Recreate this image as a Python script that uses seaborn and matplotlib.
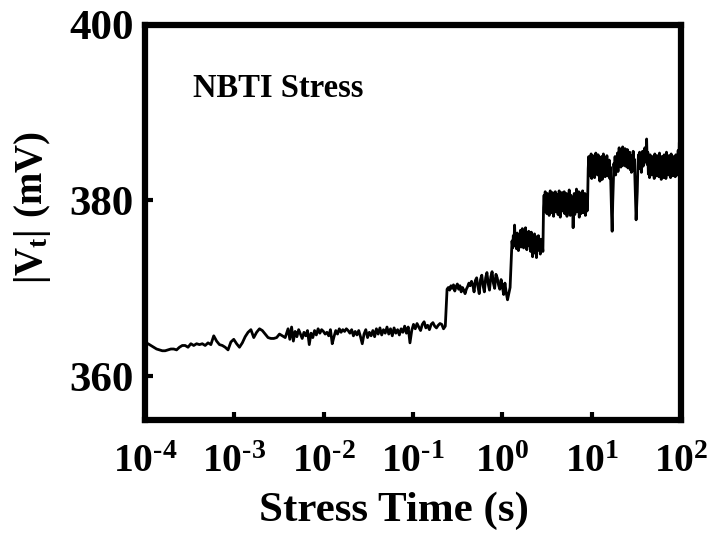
import numpy as np
import pandas as pd
import matplotlib
matplotlib.use("Agg")
import matplotlib.pyplot as plt
import seaborn as sns
from matplotlib.ticker import FixedLocator, FuncFormatter, NullLocator

# ---- data: segments of the |Vt| trace (log10 time bounds + values in mV) ----
seg_bounds = [(-4.0, -2.4), (-2.4, -0.62), (-0.62, 0.10), (0.10, 0.46), (0.46, 0.96), (0.96, 2.0)]

vt_seg_a = [363.8, 363.7, 363.5, 363.3, 363.1, 363.0, 362.9, 362.9, 363.0, 363.1,
            363.1, 363.0, 363.3, 363.5, 363.5, 363.3, 363.7, 363.5, 363.7, 363.6,
            363.7, 363.5, 363.8, 363.6, 364.6, 364.0, 363.6, 363.5, 363.3, 363.0,
            363.9, 364.2, 363.7, 363.3, 363.8, 364.5, 365.0, 365.3, 364.4, 365.0,
            365.4, 365.2, 364.8, 364.4, 364.3, 364.3, 364.4, 364.8, 364.6, 364.4]

vt_seg_b = [365.4, 364.2, 365.6, 364.0, 365.1, 364.5, 365.3,
            364.8, 364.3, 365.0, 364.6, 365.2, 363.6, 364.9, 364.4,
            365.2, 364.7, 365.4, 364.9, 365.3, 365.1, 364.8, 365.0,
            364.6, 365.3, 363.7, 364.5, 365.2, 364.8, 365.4, 365.0,
            365.3, 365.1, 365.4, 365.2, 364.9, 365.3, 364.6, 365.1,
            364.7, 365.2, 364.5, 363.7, 364.8, 365.3, 364.4, 365.0, 364.6,
            365.2, 364.5, 365.4, 364.8, 365.5, 364.7, 365.3, 364.9,
            365.6, 364.8, 365.4, 364.6, 365.5, 364.9, 365.3, 364.7,
            365.4, 365.0, 365.7, 364.9, 365.6, 363.8, 365.2, 365.9, 365.4,
            366.0, 365.6, 365.2, 365.9, 366.2, 365.5, 365.8, 365.3,
            365.9, 366.1, 365.7, 365.5, 365.8, 366.0, 365.9, 365.4, 365.7]

vt_seg_c = [369.9, 370.1, 369.8, 370.3, 370.0, 370.4, 369.7, 370.2, 370.5, 369.9,
            370.3, 369.6, 370.1, 369.8, 369.4, 369.9, 370.2, 370.6, 370.3, 370.8,
            370.4, 369.6, 370.9, 371.2, 370.2, 369.4, 371.0, 371.5, 370.3, 369.6,
            371.2, 371.8, 370.5, 369.8, 371.3, 371.9, 370.6, 370.0, 371.6, 371.2,
            370.4, 369.9, 371.0, 370.2, 369.3, 370.6, 369.5, 368.7, 369.4, 370.1]

vt_seg_d = [373.8, 375.4, 374.6, 376.0, 375.1, 377.2, 374.8, 375.9, 374.5, 376.3,
            375.0, 374.3, 376.1, 375.2, 376.6, 374.7, 375.5, 376.8, 375.3, 374.6,
            376.2, 375.0, 376.9, 375.4, 374.4, 376.0, 375.1, 376.5, 374.8, 375.7,
            374.2, 376.4, 375.0, 373.6, 375.8, 374.5, 376.2, 374.0, 375.5, 373.5,
            375.9, 374.3, 376.0, 374.6, 375.2, 373.9, 375.6, 374.4, 375.0, 374.2]

vt_seg_e = [379.2, 380.6, 378.8, 381.0, 379.4, 380.2, 378.5, 380.8, 379.1, 380.4,
            378.3, 379.8, 381.1, 379.0, 380.5, 378.6, 380.9, 379.3, 378.2, 380.1,
            379.6, 381.0, 378.7, 380.3, 379.0, 380.7, 378.4, 379.9, 381.1, 379.2,
            378.1, 380.6, 379.5, 380.9, 378.8, 380.2, 379.4, 381.0, 378.5, 380.4,
            379.1, 380.8, 378.2, 379.7, 380.5, 378.9, 381.2, 379.3, 378.3, 380.6,
            379.8, 378.6, 380.2, 376.9, 379.5, 380.8, 378.4, 380.0, 379.2, 381.3,
            378.7, 380.4, 379.0, 381.0, 378.1, 380.7, 379.6, 378.5, 380.9, 379.3,
            381.1, 378.6, 380.3, 379.1, 380.8, 378.3, 379.9, 380.5, 378.8, 380.1]

vt_seg_f = [383.6, 385.0, 382.8, 384.6, 383.2, 385.3, 382.5, 384.1, 385.1, 383.0,
            384.8, 382.6, 384.3, 385.4, 383.4, 384.9, 382.9, 385.2, 383.7, 384.5,
            382.2, 384.7, 383.1, 385.0, 382.4, 384.2, 385.3, 383.5, 384.0, 382.7,
            384.9, 383.3, 385.1, 382.8, 384.4, 383.0, 384.6, 382.5, 383.8, 381.0,
            378.5, 376.5, 379.8, 382.0, 384.2, 383.1, 385.0, 382.9, 384.7, 383.6,
            385.4, 383.3, 384.8, 386.0, 384.2, 385.6, 383.8, 385.2, 384.5, 386.1,
            384.0, 385.7, 384.6, 385.9, 383.9, 385.3, 384.4, 385.8, 383.7, 385.0,
            384.2, 385.5, 383.5, 384.9, 383.2, 385.1, 384.0, 385.6, 383.4, 384.7,
            382.3, 380.0, 377.8, 379.5, 381.0, 383.8, 385.2, 384.1, 385.5, 383.6,
            385.0, 383.2, 384.8, 385.6, 383.9, 385.2, 384.3, 386.0, 384.6, 385.3,
            387.0, 384.1, 385.5, 383.0, 384.8, 382.6, 385.2, 383.4, 384.6, 382.9,
            385.0, 383.6, 384.4, 382.5, 385.3, 383.1, 384.7, 382.8, 385.1, 383.5,
            384.9, 382.7, 385.4, 383.2, 384.5, 382.4, 385.0, 383.7, 384.2, 382.6,
            385.2, 383.0, 384.8, 382.5, 385.5, 383.4, 384.6, 382.9, 385.1, 383.3,
            384.7, 382.6, 385.3, 383.1, 384.4, 382.8, 385.0, 383.6, 384.9, 382.7,
            385.2, 383.3, 384.6, 382.9, 385.7, 383.5, 386.6, 383.0, 385.4, 384.0]

x_ticks = [1e-4, 1e-3, 1e-2, 1e-1, 1e0, 1e1, 1e2]
y_ticks = [360, 380, 400]
x_label = "Stress Time (s)"
y_label = r"$\mathbf{|V_t|\ (mV)}$"
annotation = "NBTI Stress"

# ---- build the table ----
segments = [vt_seg_a, vt_seg_b, vt_seg_c, vt_seg_d, vt_seg_e, vt_seg_f]
times, values = [], []
for (lo, hi), vals in zip(seg_bounds, segments):
    last = (hi == seg_bounds[-1][1])
    t = np.logspace(lo, hi, len(vals), endpoint=last)
    times.extend(t)
    values.extend(vals)
df = pd.DataFrame({"time": times, "vt": values})

# ---- style ----
sns.set_theme(style="ticks")
plt.rcParams["font.family"] = ["Liberation Serif", "DejaVu Serif"]
plt.rcParams["font.weight"] = "bold"
plt.rcParams["mathtext.fontset"] = "custom"
plt.rcParams["mathtext.rm"] = "Liberation Serif:bold"
plt.rcParams["mathtext.bf"] = "Liberation Serif:bold"
plt.rcParams["mathtext.it"] = "Liberation Serif:bold"
plt.rcParams["axes.labelcolor"] = "black"
plt.rcParams["text.color"] = "black"


def sup_label(v, p):
    e = int(round(np.log10(v)))
    if e < 0:
        return r"$\mathbf{10^{\text{-}%d}}$" % (-e)
    return r"$\mathbf{10^{%d}}$" % e


fig = plt.figure(figsize=(7.08, 5.38), dpi=100)
ax = fig.add_axes([0.205, 0.219, 0.757, 0.735])

sns.lineplot(data=df, x="time", y="vt", ax=ax, color="black", linewidth=2.0,
             estimator=None, sort=False)

ax.set_xscale("log")
ax.set_xlim(1e-4, 1e2)
ax.set_ylim(355, 400)

ax.xaxis.set_major_locator(FixedLocator(x_ticks))
ax.xaxis.set_minor_locator(NullLocator())
ax.xaxis.set_major_formatter(FuncFormatter(sup_label))
ax.yaxis.set_major_locator(FixedLocator(y_ticks))
ax.yaxis.set_minor_locator(NullLocator())

for s in ax.spines.values():
    s.set_visible(True)
    s.set_linewidth(4.5)
    s.set_color("black")

ax.tick_params(axis="both", which="major", direction="in", length=6, width=3,
               colors="black", bottom=True, left=True, top=False, right=False)
ax.tick_params(axis="x", pad=17, labelsize=28.5)
ax.tick_params(axis="y", pad=8, labelsize=31)
for lab in ax.get_yticklabels():
    lab.set_fontweight("bold")

ax.set_xlabel(x_label, fontsize=31, fontweight="bold", color="black")
ax.xaxis.set_label_coords(0.465, -0.18)
ax.set_ylabel(y_label, fontsize=28, color="black")
ax.yaxis.set_label_coords(-0.172, 0.537)

ax.text(0.089, 0.818, annotation, transform=ax.transAxes, fontsize=23.5,
        fontweight="bold", color="black")

fig.savefig("out.png", dpi=100)
